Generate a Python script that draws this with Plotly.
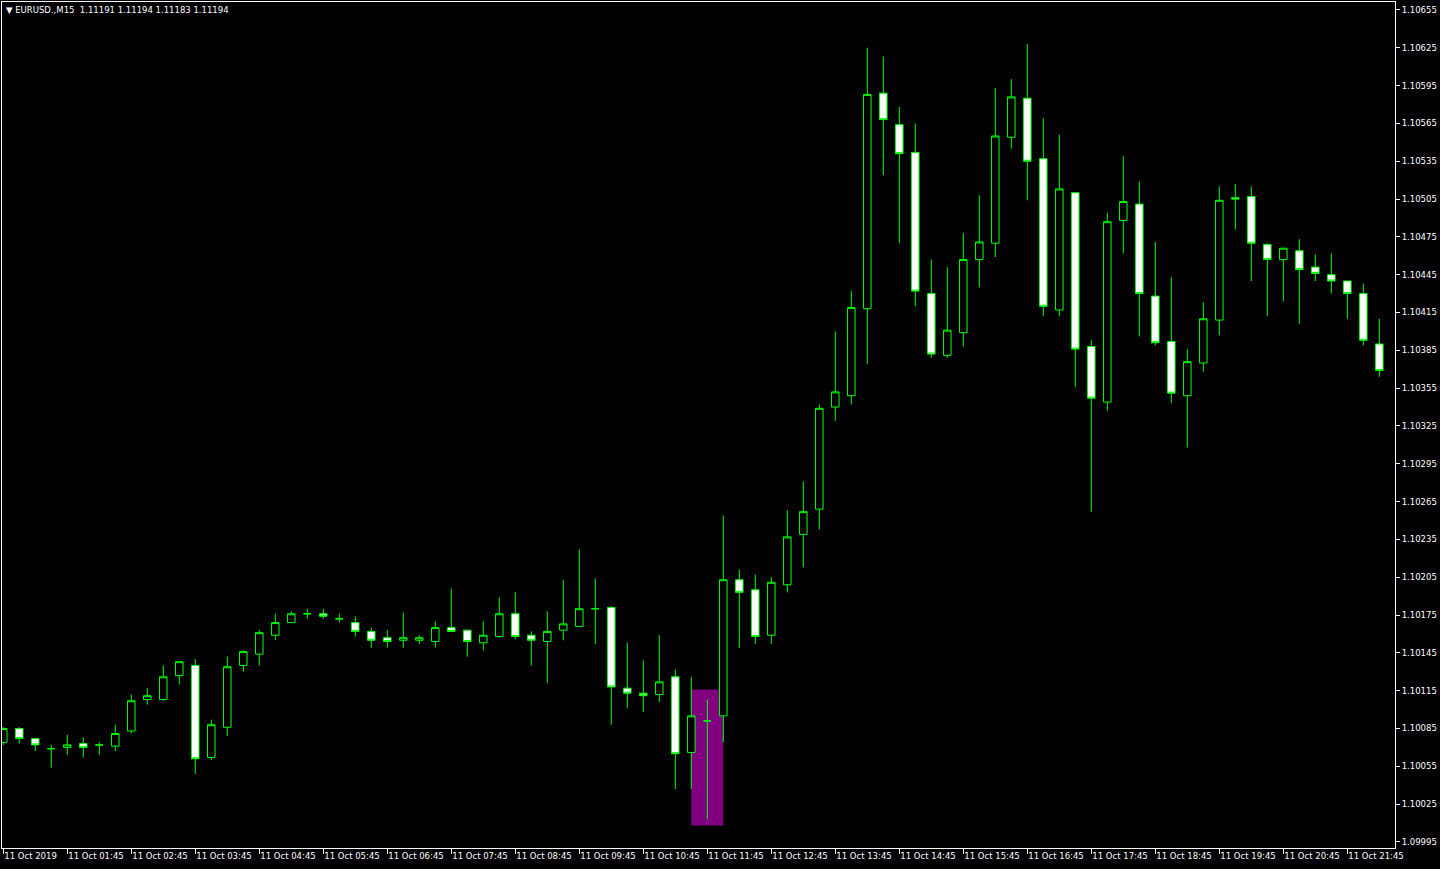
import plotly.graph_objects as go

# ---- data (EURUSD M15) ----
bar_index = list(range(87))

opens = [1.10074, 1.10085, 1.10077, 1.10069, 1.10070, 1.10073, 1.10072, 1.10071, 1.10083, 1.10108,
         1.10108, 1.10127, 1.10135, 1.10062, 1.10086, 1.10135, 1.10144, 1.10159, 1.10169, 1.10176,
         1.10176, 1.10172, 1.10169, 1.10162, 1.10157, 1.10155, 1.10155, 1.10154, 1.10165, 1.10163,
         1.10153, 1.10158, 1.10176, 1.10159, 1.10154, 1.10163, 1.10166, 1.10180, 1.10181, 1.10117,
         1.10113, 1.10112, 1.10126, 1.10066, 1.10091, 1.10095, 1.10203, 1.10195, 1.10159, 1.10199,
         1.10239, 1.10259, 1.10340, 1.10349, 1.10418, 1.10589, 1.10564, 1.10542, 1.10430, 1.10381,
         1.10399, 1.10457, 1.10470, 1.10554, 1.10585, 1.10537, 1.10417, 1.10510, 1.10388, 1.10344,
         1.10488, 1.10501, 1.10428, 1.10392, 1.10349, 1.10375, 1.10409, 1.10506, 1.10507, 1.10469,
         1.10457, 1.10464, 1.10451, 1.10445, 1.10440, 1.10430, 1.10390]

highs = [1.10086, 1.10086, 1.10077, 1.10072, 1.10080, 1.10078, 1.10074, 1.10088, 1.10112, 1.10117,
         1.10135, 1.10138, 1.10140, 1.10092, 1.10142, 1.10147, 1.10163, 1.10176, 1.10178, 1.10180,
         1.10180, 1.10176, 1.10174, 1.10165, 1.10163, 1.10177, 1.10159, 1.10170, 1.10196, 1.10163,
         1.10170, 1.10189, 1.10193, 1.10162, 1.10178, 1.10203, 1.10227, 1.10204, 1.10182, 1.10153,
         1.10139, 1.10159, 1.10132, 1.10126, 1.10108, 1.10254, 1.10211, 1.10207, 1.10205, 1.10258,
         1.10281, 1.10342, 1.10400, 1.10432, 1.10625, 1.10618, 1.10578, 1.10565, 1.10457, 1.10451,
         1.10478, 1.10508, 1.10593, 1.10600, 1.10628, 1.10569, 1.10556, 1.10510, 1.10393, 1.10494,
         1.10539, 1.10519, 1.10471, 1.10443, 1.10386, 1.10423, 1.10515, 1.10517, 1.10515, 1.10470,
         1.10466, 1.10473, 1.10461, 1.10462, 1.10440, 1.10438, 1.10410]

lows = [1.10072, 1.10073, 1.10067, 1.10054, 1.10064, 1.10062, 1.10064, 1.10067, 1.10081, 1.10104,
        1.10107, 1.10120, 1.10049, 1.10060, 1.10079, 1.10130, 1.10135, 1.10155, 1.10169, 1.10172,
        1.10172, 1.10169, 1.10158, 1.10149, 1.10149, 1.10149, 1.10152, 1.10149, 1.10162, 1.10142,
        1.10147, 1.10157, 1.10156, 1.10135, 1.10121, 1.10155, 1.10166, 1.10152, 1.10088, 1.10101,
        1.10098, 1.10106, 1.10037, 1.10037, 1.10013, 1.10074, 1.10149, 1.10152, 1.10152, 1.10193,
        1.10213, 1.10243, 1.10329, 1.10342, 1.10374, 1.10524, 1.10470, 1.10420, 1.10379, 1.10379,
        1.10388, 1.10435, 1.10459, 1.10545, 1.10504, 1.10412, 1.10412, 1.10356, 1.10257, 1.10337,
        1.10462, 1.10396, 1.10389, 1.10343, 1.10308, 1.10368, 1.10397, 1.10481, 1.10440, 1.10412,
        1.10424, 1.10406, 1.10440, 1.10430, 1.10410, 1.10389, 1.10364]

closes = [1.10085, 1.10077, 1.10072, 1.10069, 1.10072, 1.10070, 1.10072, 1.10081, 1.10107, 1.10111,
          1.10126, 1.10138, 1.10061, 1.10088, 1.10134, 1.10146, 1.10161, 1.10169, 1.10176, 1.10176,
          1.10174, 1.10172, 1.10162, 1.10155, 1.10154, 1.10157, 1.10157, 1.10165, 1.10162, 1.10154,
          1.10159, 1.10176, 1.10158, 1.10155, 1.10162, 1.10168, 1.10180, 1.10180, 1.10118, 1.10113,
          1.10111, 1.10122, 1.10065, 1.10095, 1.10091, 1.10203, 1.10193, 1.10158, 1.10201, 1.10237,
          1.10257, 1.10339, 1.10352, 1.10419, 1.10588, 1.10568, 1.10541, 1.10432, 1.10382, 1.10401,
          1.10457, 1.10471, 1.10555, 1.10586, 1.10535, 1.10420, 1.10513, 1.10386, 1.10347, 1.10487,
          1.10503, 1.10430, 1.10391, 1.10351, 1.10376, 1.10410, 1.10504, 1.10505, 1.10470, 1.10457,
          1.10466, 1.10449, 1.10446, 1.10440, 1.10430, 1.10393, 1.10369]

tick_positions = list(range(0, 85, 4))
tick_labels = ["11 Oct 2019", "11 Oct 01:45", "11 Oct 02:45", "11 Oct 03:45", "11 Oct 04:45",
               "11 Oct 05:45", "11 Oct 06:45", "11 Oct 07:45", "11 Oct 08:45", "11 Oct 09:45",
               "11 Oct 10:45", "11 Oct 11:45", "11 Oct 12:45", "11 Oct 13:45", "11 Oct 14:45",
               "11 Oct 15:45", "11 Oct 16:45", "11 Oct 17:45", "11 Oct 18:45", "11 Oct 19:45",
               "11 Oct 20:45", "11 Oct 21:45"]

rect_bars = [43, 45]
rect_prices = [1.10008, 1.10116]

header_text = "\u25BC EURUSD.,M15\u00a0\u00a01.11191 1.11194 1.11183 1.11194"

FONT = "DejaVu Sans"
LIME = "#00FF00"

fig = go.Figure()
fig.add_trace(go.Candlestick(
    x=bar_index, open=opens, high=highs, low=lows, close=closes,
    increasing=dict(line=dict(color=LIME, width=1), fillcolor="#000000"),
    decreasing=dict(line=dict(color=LIME, width=1), fillcolor="#FFFFFF"),
    whiskerwidth=0, hoverinfo="skip", showlegend=False,
))

fig.add_shape(type="rect", xref="x", yref="y",
              x0=rect_bars[0], x1=rect_bars[1], y0=rect_prices[0], y1=rect_prices[1],
              fillcolor="#800080", line=dict(width=0), layer="below")

fig.add_annotation(xref="paper", yref="paper", x=0.0015, y=1, xanchor="left", yanchor="top",
                   yshift=-1, showarrow=False, text=header_text,
                   font=dict(family=FONT, size=8.5, color="#FFFFFF"))

fig.update_layout(
    width=1440, height=869,
    margin=dict(l=2, r=45, t=2, b=21, autoexpand=False),
    paper_bgcolor="#000000", plot_bgcolor="#000000",
    boxgap=0.33,
    font=dict(family=FONT, size=8.5, color="#FFFFFF"),
    xaxis=dict(
        range=[-0.08, 86.98], rangeslider=dict(visible=False), automargin=False,
        tickmode="array", tickvals=tick_positions, ticktext=tick_labels, tickangle=0,
        ticks="outside", ticklen=5, tickcolor="#FFFFFF", ticklabelposition="outside right",
        showgrid=False, zeroline=False, showline=True, linecolor="#FFFFFF", linewidth=1,
        mirror=True, tickfont=dict(family=FONT, size=8.5, color="#FFFFFF"),
    ),
    yaxis=dict(
        side="right", range=[1.099902, 1.106613], automargin=False,
        tick0=1.09995, dtick=0.0003, tickformat=".5f",
        ticks="outside", ticklen=4, tickcolor="#FFFFFF",
        showgrid=False, zeroline=False, showline=True, linecolor="#FFFFFF", linewidth=1,
        mirror=True, tickfont=dict(family=FONT, size=8.5, color="#FFFFFF"),
    ),
)

fig.write_html("out.html", config={"displayModeBar": False},
               post_script="document.body.style.margin='0px';document.body.style.background='#000';")
